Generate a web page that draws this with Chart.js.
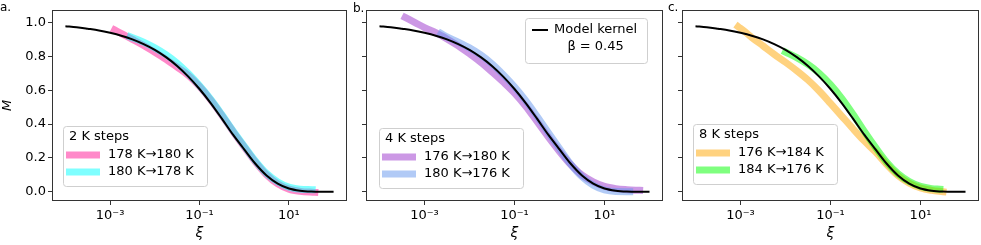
<!DOCTYPE html>
<html><head><meta charset="utf-8">
<script src="https://cdn.jsdelivr.net/npm/chart.js@4/dist/chart.umd.min.js"></script>
<style>
html,body{margin:0;padding:0;background:#fff;}
#wrap{position:relative;width:981px;height:245px;overflow:hidden;background:#fff;}
canvas{position:absolute;top:0;}
</style></head><body>
<div id="wrap">
<canvas id="ca" width="352" height="245" style="left:0px"></canvas>
<canvas id="cb" width="316" height="245" style="left:352px"></canvas>
<canvas id="cc" width="313" height="245" style="left:668px"></canvas>
</div>
<script>
// ---------------- data (log10 of xi, and M) ----------------
const xTickValues = [1e-3, 1e-1, 1e1];
const yTickValues = [0, 0.2, 0.4, 0.6, 0.8, 1.0];

const kernelLabel = 'Model kernel\nβ = 0.45';
const kernelLogXi = [-4,-3.75,-3.5,-3.25,-3,-2.75,-2.5,-2.25,-2,-1.75,-1.5,-1.25,-1,-0.75,-0.5,-0.25,0,0.25,0.5,0.75,1,1.25,1.5,1.75,2];
const kernelM     = [0.978,0.972,0.963,0.953,0.939,0.922,0.900,0.872,0.838,0.795,0.743,0.680,0.607,0.524,0.432,0.337,0.250,0.165,0.096,0.048,0.019,0.006,0.001,0.000,0.000];

// panel a: 2 K steps
const stepA = '2 K steps';
const pinkLabel = '178 K→180 K';
const pinkLogXi = [-2.9,-2.7,-2.5,-2.25,-2,-1.75,-1.5,-1.25,-1,-0.75,-0.5,-0.25,0,0.25,0.5,0.75,1,1.25,1.58];
const pinkM     = [0.956,0.928,0.900,0.864,0.824,0.782,0.736,0.688,0.622,0.543,0.452,0.356,0.265,0.176,0.100,0.046,0.015,0.002,-0.004];
const cyanLabel = '180 K→178 K';
const cyanLogXi = [-2.55,-2.25,-2,-1.75,-1.5,-1.25,-1,-0.75,-0.5,-0.25,0,0.25,0.5,0.75,1,1.25,1.52];
const cyanM     = [0.915,0.884,0.850,0.810,0.760,0.698,0.627,0.547,0.456,0.360,0.270,0.182,0.108,0.058,0.027,0.015,0.012];

// panel b: 4 K steps
const stepB = '4 K steps';
const purpleLabel = '176 K→180 K';
const purpleLogXi = [-3.43,-3.2,-3,-2.75,-2.5,-2.25,-2,-1.75,-1.5,-1.25,-1,-0.75,-0.5,-0.25,0,0.25,0.5,0.75,1,1.25,1.5,1.78];
const purpleM     = [1.030,0.998,0.970,0.940,0.903,0.862,0.815,0.765,0.708,0.648,0.583,0.505,0.415,0.324,0.238,0.160,0.098,0.058,0.031,0.018,0.012,0.008];
const blueLabel = '180 K→176 K';
const blueLogXi = [-2.63,-2.5,-2.25,-2,-1.75,-1.5,-1.25,-1,-0.75,-0.5,-0.25,0,0.25,0.5,0.75,1,1.25,1.56];
const blueM     = [0.935,0.915,0.884,0.850,0.808,0.756,0.692,0.620,0.538,0.446,0.350,0.255,0.162,0.088,0.038,0.010,0.001,0.000];

// panel c: 8 K steps
const stepC = '8 K steps';
const orangeLabel = '176 K→184 K';
const orangeLogXi = [-3.05,-2.9,-2.75,-2.5,-2.25,-2,-1.75,-1.5,-1.25,-1,-0.75,-0.5,-0.25,0,0.25,0.5,0.75,1,1.25,1.5];
const orangeM     = [0.975,0.945,0.912,0.862,0.812,0.765,0.715,0.660,0.595,0.522,0.447,0.372,0.300,0.235,0.160,0.095,0.050,0.022,0.008,0.000];
const greenLabel = '184 K→176 K';
const greenLogXi = [-2.0,-1.75,-1.5,-1.25,-1,-0.75,-0.5,-0.25,0,0.25,0.5,0.75,1,1.25,1.43];
const greenM     = [0.825,0.792,0.752,0.700,0.633,0.552,0.458,0.357,0.262,0.174,0.106,0.060,0.031,0.018,0.015];

// ---------------- helpers ----------------
const FONT = '"DejaVu Sans", "Liberation Sans", sans-serif';
Chart.defaults.font.family = FONT;
Chart.defaults.font.size = 13;
Chart.defaults.color = '#000';

function pts(logs, vals){ return logs.map((l,i)=>({x: Math.pow(10,l), y: vals[i]})); }
const SUP = {'-':'⁻','0':'⁰','1':'¹','2':'²','3':'³','4':'⁴','5':'⁵','6':'⁶','7':'⁷','8':'⁸','9':'⁹'};
function sciLabel(v){ const e = Math.round(Math.log10(v)); return '10' + String(e).split('').map(c=>SUP[c]).join(''); }

function series(label, logs, vals, color, width){
  return {label, data: pts(logs, vals), borderColor: color, backgroundColor: color,
    borderWidth: width, pointRadius: 0, fill: false, cubicInterpolationMode: 'monotone',
    borderCapStyle: width > 3 ? 'square' : 'butt', borderJoinStyle: 'round'};
}

const framePlugin = {
  id: 'frame',
  afterDatasetsDraw(chart, args, opts){
    const a = chart.chartArea, ctx = chart.ctx;
    ctx.save();
    ctx.strokeStyle = '#333'; ctx.lineWidth = 1;
    ctx.strokeRect(Math.round(a.left)+0.5, Math.round(a.top)+0.5, Math.round(a.right-a.left)-1, Math.round(a.bottom-a.top)-1);
    ctx.restore();
  }
};

const letterPlugin = {
  id: 'letter',
  afterDraw(chart, args, opts){
    if(!opts.text) return;
    const ctx = chart.ctx;
    ctx.save();
    ctx.font = '12px ' + FONT; ctx.fillStyle = '#000'; ctx.textBaseline = 'middle'; ctx.textAlign = 'left';
    ctx.fillText(opts.text, opts.x, opts.y);
    ctx.restore();
  }
};

const boxLegendPlugin = {
  id: 'boxLegend',
  afterDatasetsDraw(chart, args, opts){
    const ctx = chart.ctx;
    (opts.boxes || []).forEach(b => {
      ctx.save();
      ctx.beginPath();
      ctx.roundRect(b.x+0.5, b.y+0.5, b.w, b.h, 3);
      ctx.fillStyle = 'rgba(255,255,255,0.8)'; ctx.fill();
      ctx.strokeStyle = '#cfcfcf'; ctx.lineWidth = 1; ctx.stroke();
      ctx.font = '13px ' + FONT; ctx.fillStyle = '#000'; ctx.textBaseline = 'middle';
      if (b.title){ ctx.textAlign = 'left'; ctx.fillText(b.title, b.titleX, b.titleY); }
      b.items.forEach(it => {
        const ds = chart.data.datasets[it.ds];
        ctx.save();
        ctx.strokeStyle = ds.borderColor; ctx.lineWidth = ds.borderWidth; ctx.lineCap = 'butt';
        ctx.beginPath(); ctx.moveTo(b.lineX0, it.y); ctx.lineTo(b.lineX1, it.y); ctx.stroke();
        ctx.restore();
        const lines = ds.label.split('\n');
        ctx.textAlign = 'left';
        ctx.fillText(lines[0], b.textX, it.y);
        if (lines.length > 1){
          const w0 = ctx.measureText(lines[0]).width;
          ctx.textAlign = 'center';
          for (let k = 1; k < lines.length; k++) ctx.fillText(lines[k], b.textX + w0/2, it.y + 17*k);
        }
      });
      ctx.restore();
    });
  }
};

function makePanel(id, datasets, yWidth, padRight, showYLabels, letter, boxes){
  return new Chart(document.getElementById(id), {
    type: 'line',
    data: { datasets },
    options: {
      responsive: false, animation: false, events: [],
      devicePixelRatio: 1,
      layout: { padding: { top: 4, right: padRight, left: 0, bottom: 0 } },
      scales: {
        x: {
          type: 'logarithmic', min: Math.pow(10,-4.3), max: Math.pow(10,2.3),
          afterBuildTicks: s => { s.ticks = xTickValues.map(v => ({value: v})); },
          afterFit: s => { s.height = 44; },
          ticks: { callback: v => sciLabel(v), autoSkip: false, maxRotation: 0, padding: 3, font: {size: 13}, color: '#000' },
          grid: { display: true, drawOnChartArea: false, drawTicks: true, tickLength: 4, color: '#333', tickWidth: 1 },
          border: { display: false },
          title: { display: true, text: 'ξ', font: { size: 14, style: 'italic' }, padding: { top: 0, bottom: 3 }, color: '#000' }
        },
        y: {
          type: 'linear', min: -0.055, max: 1.075,
          afterBuildTicks: s => { s.ticks = yTickValues.map(v => ({value: v})); },
          afterFit: s => { s.width = yWidth; },
          ticks: { callback: v => showYLabels ? v.toFixed(1) : '', padding: 2, font: {size: 13}, color: '#000' },
          grid: { display: true, drawOnChartArea: false, drawTicks: true, tickLength: 4, color: '#333', tickWidth: 1 },
          border: { display: false },
          title: { display: showYLabels, text: 'M', font: { size: 13, style: 'italic' }, padding: { top: 0, bottom: 0 }, color: '#000' }
        }
      },
      plugins: {
        legend: { display: false }, tooltip: { enabled: false },
        letter, boxLegend: { boxes }
      }
    },
    plugins: [framePlugin, boxLegendPlugin, letterPlugin]
  });
}

const BLACK = '#000000';
// panel a
makePanel('ca', [
  series(kernelLabel, kernelLogXi, kernelM, BLACK, 2),
  series(cyanLabel, cyanLogXi, cyanM, 'rgba(0,255,255,0.5)', 7),
  series(pinkLabel, pinkLogXi, pinkM, 'rgba(255,20,147,0.5)', 7)
], 52, 5, true, {text: 'a.', x: 0, y: 8}, [
  {x: 63, y: 126, w: 144, h: 60, title: stepA, titleX: 69, titleY: 137, lineX0: 66, lineX1: 100, textX: 108,
   items: [{ds: 2, y: 155}, {ds: 1, y: 172}]}
]);
// panel b
makePanel('cb', [
  series(kernelLabel, kernelLogXi, kernelM, BLACK, 2),
  series(blueLabel, blueLogXi, blueM, 'rgba(100,149,237,0.5)', 7),
  series(purpleLabel, purpleLogXi, purpleM, 'rgba(153,50,204,0.5)', 7)
], 14, 5, false, {text: 'b.', x: 1, y: 9}, [
  {x: 27, y: 128, w: 144, h: 60, title: stepB, titleX: 33, titleY: 139, lineX0: 30, lineX1: 64, textX: 72,
   items: [{ds: 2, y: 157}, {ds: 1, y: 174}]},
  {x: 173, y: 18, w: 122, h: 45, title: null, lineX0: 180, lineX1: 196, textX: 202,
   items: [{ds: 0, y: 30}]}
]);
// panel c
makePanel('cc', [
  series(kernelLabel, kernelLogXi, kernelM, BLACK, 2),
  series(greenLabel, greenLogXi, greenM, 'rgba(0,255,0,0.5)', 7),
  series(orangeLabel, orangeLogXi, orangeM, 'rgba(255,165,0,0.5)', 7)
], 14, 2, false, {text: 'c.', x: 0, y: 8}, [
  {x: 25, y: 124, w: 144, h: 60, title: stepC, titleX: 31, titleY: 135, lineX0: 28, lineX1: 62, textX: 70,
   items: [{ds: 2, y: 153}, {ds: 1, y: 170}]}
]);
</script>
</body></html>
